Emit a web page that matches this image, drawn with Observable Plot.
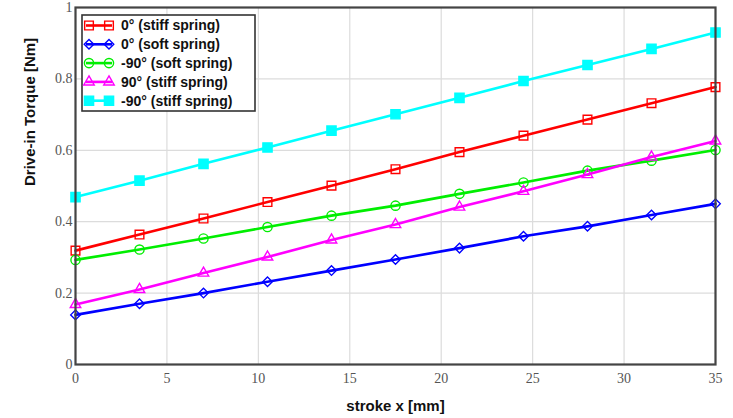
<!DOCTYPE html>
<html><head><meta charset="utf-8">
<script src="https://cdn.jsdelivr.net/npm/d3@7"></script>
<script src="https://cdn.jsdelivr.net/npm/@observablehq/plot@0.6"></script>
<style>body{margin:0;background:#fff}#chart{width:733px;height:418px}</style>
</head><body><div id="chart"></div>
<script>
const strokeX = [0, 3.5, 7, 10.5, 14, 17.5, 21, 24.5, 28, 31.5, 35];
const stiff0   = [0.319, 0.364, 0.409, 0.455, 0.501, 0.547, 0.595, 0.641, 0.686, 0.732, 0.777];
const soft0    = [0.139, 0.170, 0.200, 0.232, 0.263, 0.294, 0.326, 0.359, 0.387, 0.419, 0.450];
const softM90  = [0.293, 0.322, 0.353, 0.385, 0.417, 0.445, 0.478, 0.510, 0.543, 0.571, 0.601];
const stiff90  = [0.168, 0.210, 0.256, 0.301, 0.349, 0.392, 0.441, 0.485, 0.532, 0.581, 0.626];
const stiffM90 = [0.469, 0.515, 0.562, 0.608, 0.655, 0.701, 0.747, 0.794, 0.839, 0.884, 0.930];
const seriesNames = ["0° (stiff spring)", "0° (soft spring)", "-90° (soft spring)", "90° (stiff spring)", "-90° (stiff spring)"];
const xTicks = [0, 5, 10, 15, 20, 25, 30, 35];
const yTicks = [0, 0.2, 0.4, 0.6, 0.8, 1];
const xLabel = "stroke x [mm]";
const yLabel = "Drive-in Torque [Nm]";

const seriesValues = [stiff0, soft0, softM90, stiff90, stiffM90];
const styles = [
  {color: "#ff0000", symbol: "square", r: 4.9, filled: false, d3sym: d3.symbolSquare},
  {color: "#0000ff", symbol: "diamond2", r: 4.3, filled: false, d3sym: d3.symbolDiamond2},
  {color: "#00ee00", symbol: "circle", r: 4.6, filled: false, d3sym: d3.symbolCircle},
  {color: "#ff00ff", symbol: "triangle", r: 3.9, filled: false, d3sym: d3.symbolTriangle},
  {color: "#00ffff", symbol: "square", r: 5.2, filled: true, d3sym: d3.symbolSquare}
];

const marks = [
  Plot.gridX(xTicks, {stroke: "#dcdcdc", strokeOpacity: 1, strokeWidth: 1.2}),
  Plot.gridY(yTicks, {stroke: "#dcdcdc", strokeOpacity: 1, strokeWidth: 1.2}),
];
seriesNames.forEach((name, k) => {
  const rows = strokeX.map((x, i) => ({x, y: seriesValues[k][i], name}));
  const st = styles[k];
  marks.push(Plot.line(rows, {x: "x", y: "y", stroke: st.color, strokeWidth: 2.6}));
  marks.push(Plot.dot(rows, {x: "x", y: "y", symbol: () => st.symbol, r: st.r,
    stroke: st.color, strokeWidth: 1.4, fill: st.filled ? st.color : "none"}));
});
marks.push(
  Plot.frame({stroke: "#444", strokeWidth: 2.2}),
  Plot.axisX(xTicks, {tickSize: 0, tickPadding: 9, label: null, fontFamily: "Liberation Serif", fontSize: 14, fill: "#555"}),
  Plot.axisY(yTicks, {tickSize: 0, tickPadding: 3, label: null, tickFormat: d => String(d), fontFamily: "Liberation Serif", fontSize: 14, fill: "#555"}),
  Plot.text([xLabel], {frameAnchor: "bottom", dy: 46, fontFamily: "Liberation Sans", fontWeight: "bold", fontSize: 15, fill: "#111"}),
  Plot.text([yLabel], {frameAnchor: "left", dx: -45, rotate: -90, fontFamily: "Liberation Sans", fontWeight: "bold", fontSize: 15, fill: "#111"})
);

const chart = Plot.plot({
  width: 733, height: 418,
  marginLeft: 75, marginRight: 18, marginTop: 7, marginBottom: 54,
  x: {domain: [0, 35]},
  y: {domain: [0, 1]},
  style: {background: "#fff", overflow: "visible"},
  marks
});

// legend inside plot area
const svg = d3.select(chart);
const lg = svg.append("g").attr("text-anchor", "start");
const lx = 82, ly = 15, lw = 173, lh = 96;
lg.append("rect").attr("x", lx).attr("y", ly).attr("width", lw).attr("height", lh)
  .attr("fill", "#fff").attr("stroke", "#333").attr("stroke-width", 1.6);
seriesNames.forEach((name, k) => {
  const st = styles[k];
  const y = ly + 10.5 + k * 18.8;
  lg.append("line").attr("x1", 86).attr("x2", 112).attr("y1", y).attr("y2", y)
    .attr("stroke", st.color).attr("stroke-width", 2.6);
  [89, 109].forEach(cx => {
    lg.append("path").attr("d", d3.symbol(st.d3sym, Math.PI * st.r * st.r)())
      .attr("transform", `translate(${cx},${y})`)
      .attr("stroke", st.color).attr("stroke-width", 1.4)
      .attr("fill", st.filled ? st.color : "none");
  });
  lg.append("text").attr("x", 121).attr("y", y).attr("dy", "0.35em")
    .attr("text-anchor", "start")
    .attr("font-family", "Liberation Sans").attr("font-weight", "bold").attr("font-size", 14)
    .attr("fill", "#111").text(name);
});

document.getElementById("chart").appendChild(chart);
</script></body></html>
